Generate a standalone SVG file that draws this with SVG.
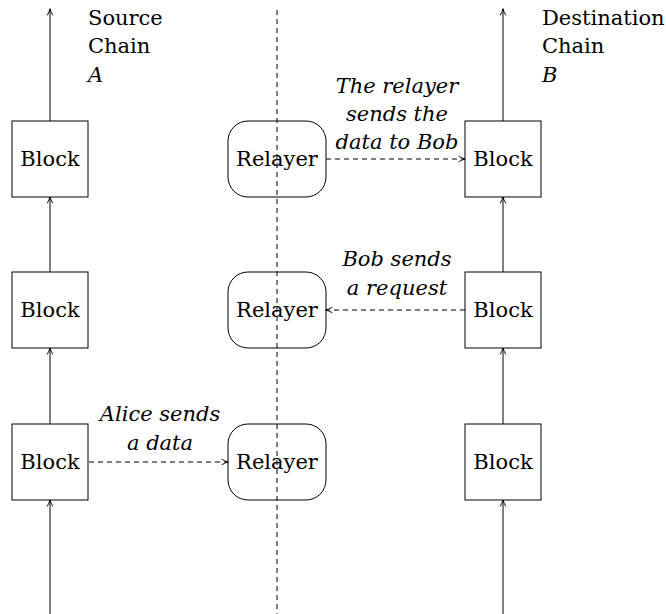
<svg xmlns="http://www.w3.org/2000/svg" width="666" height="614" viewBox="0 0 666 614">
<style>
.box{fill:#fff;stroke:#000;stroke-width:1}
.t{font-family:'DejaVu Serif',serif;font-size:21px;fill:#000}
.i{font-style:italic}
.ln{stroke:#000;stroke-width:1;fill:none}
.dl{stroke:#000;stroke-width:1;fill:none;stroke-dasharray:5,4}
</style>
<defs>
<marker id="ar" viewBox="0 0 10 10" refX="9" refY="5" markerWidth="8" markerHeight="8" markerUnits="userSpaceOnUse" orient="auto">
<path d="M1,1.5 Q5,4 9.5,5 Q5,6 1,8.5" fill="none" stroke="#000" stroke-width="1.2"/>
</marker>
</defs>
<rect width="666" height="614" fill="#fff"/>
<g id="connectors">
<line class="dl" x1="277" y1="10" x2="277" y2="614" stroke-dasharray="8,6"/>
<line class="ln" x1="50" y1="121" x2="50" y2="9" marker-end="url(#ar)"/>
<line class="ln" x1="50" y1="272" x2="50" y2="197" marker-end="url(#ar)"/>
<line class="ln" x1="50" y1="424" x2="50" y2="348" marker-end="url(#ar)"/>
<line class="ln" x1="50" y1="614" x2="50" y2="500" marker-end="url(#ar)"/>
<line class="ln" x1="503" y1="121" x2="503" y2="9" marker-end="url(#ar)"/>
<line class="ln" x1="503" y1="272" x2="503" y2="197" marker-end="url(#ar)"/>
<line class="ln" x1="503" y1="424" x2="503" y2="348" marker-end="url(#ar)"/>
<line class="ln" x1="503" y1="614" x2="503" y2="500" marker-end="url(#ar)"/>
<line class="dl" x1="326" y1="159" x2="465" y2="159" marker-end="url(#ar)"/>
<line class="dl" x1="465" y1="310" x2="326" y2="310" marker-end="url(#ar)"/>
<line class="dl" x1="89" y1="462" x2="228" y2="462" marker-end="url(#ar)"/>
</g>
<g id="blockA1"><rect class="box" x="12" y="121" width="76" height="76"/><text class="t" x="50" y="166" text-anchor="middle">Block</text></g>
<g id="blockA2"><rect class="box" x="12" y="272" width="76" height="76"/><text class="t" x="50" y="317" text-anchor="middle">Block</text></g>
<g id="blockA3"><rect class="box" x="12" y="424" width="76" height="76"/><text class="t" x="50" y="469" text-anchor="middle">Block</text></g>
<g id="blockB1"><rect class="box" x="465" y="121" width="76" height="76"/><text class="t" x="503" y="166" text-anchor="middle">Block</text></g>
<g id="blockB2"><rect class="box" x="465" y="272" width="76" height="76"/><text class="t" x="503" y="317" text-anchor="middle">Block</text></g>
<g id="blockB3"><rect class="box" x="465" y="424" width="76" height="76"/><text class="t" x="503" y="469" text-anchor="middle">Block</text></g>
<g id="relayer1"><rect class="box" x="228" y="121" width="98" height="76" rx="20" fill-opacity="0"/><text class="t" x="277" y="166" text-anchor="middle">Relayer</text></g>
<g id="relayer2"><rect class="box" x="228" y="272" width="98" height="76" rx="20" fill-opacity="0"/><text class="t" x="277" y="317" text-anchor="middle">Relayer</text></g>
<g id="relayer3"><rect class="box" x="228" y="424" width="98" height="76" rx="20" fill-opacity="0"/><text class="t" x="277" y="469" text-anchor="middle">Relayer</text></g>
<g id="labelA">
<text class="t" x="88" y="25">Source</text>
<text class="t" x="88" y="53">Chain</text>
<text class="t i" x="88" y="82">A</text>
</g>
<g id="labelB">
<text class="t" x="542" y="25">Destination</text>
<text class="t" x="542" y="53">Chain</text>
<text class="t i" x="542" y="82">B</text>
</g>
<g id="edgeLabels">
<text class="t i" x="397" y="93" text-anchor="middle">The relayer</text>
<text class="t i" x="397" y="121" text-anchor="middle">sends the</text>
<text class="t i" x="397" y="149" text-anchor="middle">data to Bob</text>
<text class="t i" x="397" y="266" text-anchor="middle">Bob sends</text>
<text class="t i" x="397" y="295" text-anchor="middle">a request</text>
<text class="t i" x="160" y="421" text-anchor="middle">Alice sends</text>
<text class="t i" x="160" y="450" text-anchor="middle">a data</text>
</g>
</svg>
